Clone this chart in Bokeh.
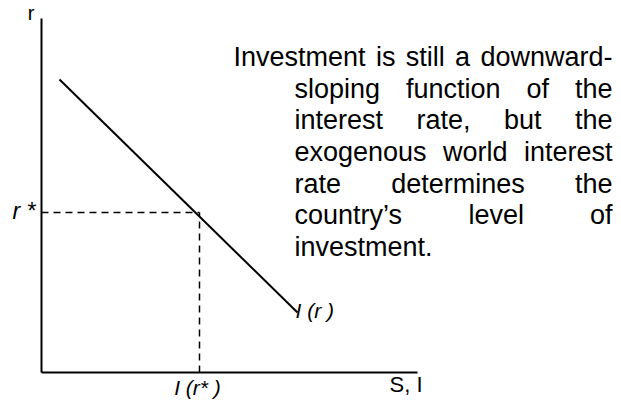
from bokeh.plotting import figure
from bokeh.models import Range1d
from bokeh.embed import file_html
from bokeh.resources import INLINE
from bokeh.core.properties import value

# ---- chart values (conceptual diagram, units of the drawing) ----
axis_x_end = 376          # length of the S, I axis
axis_y_end = 354          # length of the r axis
curve_x = [18, 256]       # I(r) schedule: investment
curve_y = [293, 60]       # I(r) schedule: interest rate
r_star = 160              # world interest rate r*
i_star = 158              # investment at r*

label_r_axis = "r"
label_si_axis = "S, I"
label_r_star = "r *"
label_i_curve = "I (r )"
label_i_star = "I (r* )"

note_lines = [
    "Investment is still a downward-",
    "sloping function of the",
    "interest rate, but the",
    "exogenous world interest",
    "rate determines the",
    "country\u2019s level of",
    "investment.",
]

# ---- styling / layout ----
FONT = "Liberation Sans"
W, H = 616, 402
BL = 0.38   # baseline correction (fraction of font size)

p = figure(width=W, height=H,
           x_range=Range1d(-41, 575), y_range=Range1d(-30, 372),
           output_backend="svg", toolbar_location=None,
           x_axis_type=None, y_axis_type=None, min_border=0)
p.outline_line_color = None
p.grid.visible = False
p.background_fill_color = "white"
p.border_fill_color = "white"

# axes
p.line([0, 0], [0, axis_y_end], line_color="black", line_width=2)
p.line([0, axis_x_end], [0, 0], line_color="black", line_width=2)

# dashed guides
p.line([0, i_star], [r_star, r_star], line_color="black", line_width=1.5, line_dash="7 5")
p.line([i_star, i_star], [0, r_star], line_color="black", line_width=1.5, line_dash="7 5")

# investment schedule
p.line(curve_x, curve_y, line_color="black", line_width=2)


def label(x, y, txt, size, align, italic=False):
    p.text(x=[x], y=[y + BL * size], text=[txt], text_align=align,
           text_baseline="alphabetic",
           text_font_style="italic" if italic else "normal",
           text_font=value(FONT), text_font_size=f"{size}px", text_color="black")


label(-10.5, 352, label_r_axis, 20, "center")
label(axis_x_end + 5, -20, label_si_axis, 22, "right")
label(-6, r_star - 7, label_r_star, 23, "right", italic=True)
label(curve_x[-1] - 2, curve_y[-1] - 6, label_i_curve, 21, "left", italic=True)
label(i_star - 2, -23, label_i_star, 21, "center", italic=True)

# justified note text (word placement from Arial/Liberation advance widths)
ADV = {' ': 278, 'a': 556, 'b': 556, 'c': 500, 'd': 556, 'e': 556, 'f': 278,
       'g': 556, 'h': 556, 'i': 222, 'j': 222, 'k': 500, 'l': 222, 'm': 833,
       'n': 556, 'o': 556, 'p': 556, 'q': 556, 'r': 333, 's': 500, 't': 278,
       'u': 556, 'v': 500, 'w': 722, 'x': 500, 'y': 500, 'z': 500, 'I': 278,
       '-': 333, ',': 278, '.': 278, '\u2019': 222}
NOTE_SIZE = 27


def tw(s):
    return sum(ADV.get(c, 556) for c in s) * NOTE_SIZE / 1000.0


first_left, left, right = 192, 253, 571
base0, step = 305.3 + BL * NOTE_SIZE, 31.7
wx, wy, wt = [], [], []
for i, line in enumerate(note_lines):
    words = line.split(" ")
    x0 = first_left if i == 0 else left
    y = base0 - i * step
    widths = [tw(w) for w in words]
    if i == len(note_lines) - 1 or len(words) == 1:
        gap = tw(" ")
    else:
        gap = (right - x0 - sum(widths)) / (len(words) - 1)
    x = x0
    for w, wd in zip(words, widths):
        wx.append(x)
        wy.append(y)
        wt.append(w)
        x += wd + gap

p.text(x=wx, y=wy, text=wt, text_align="left", text_baseline="alphabetic",
       text_font=value(FONT), text_font_size=f"{NOTE_SIZE}px", text_color="black")

open("out.html", "w").write(file_html(p, INLINE))
